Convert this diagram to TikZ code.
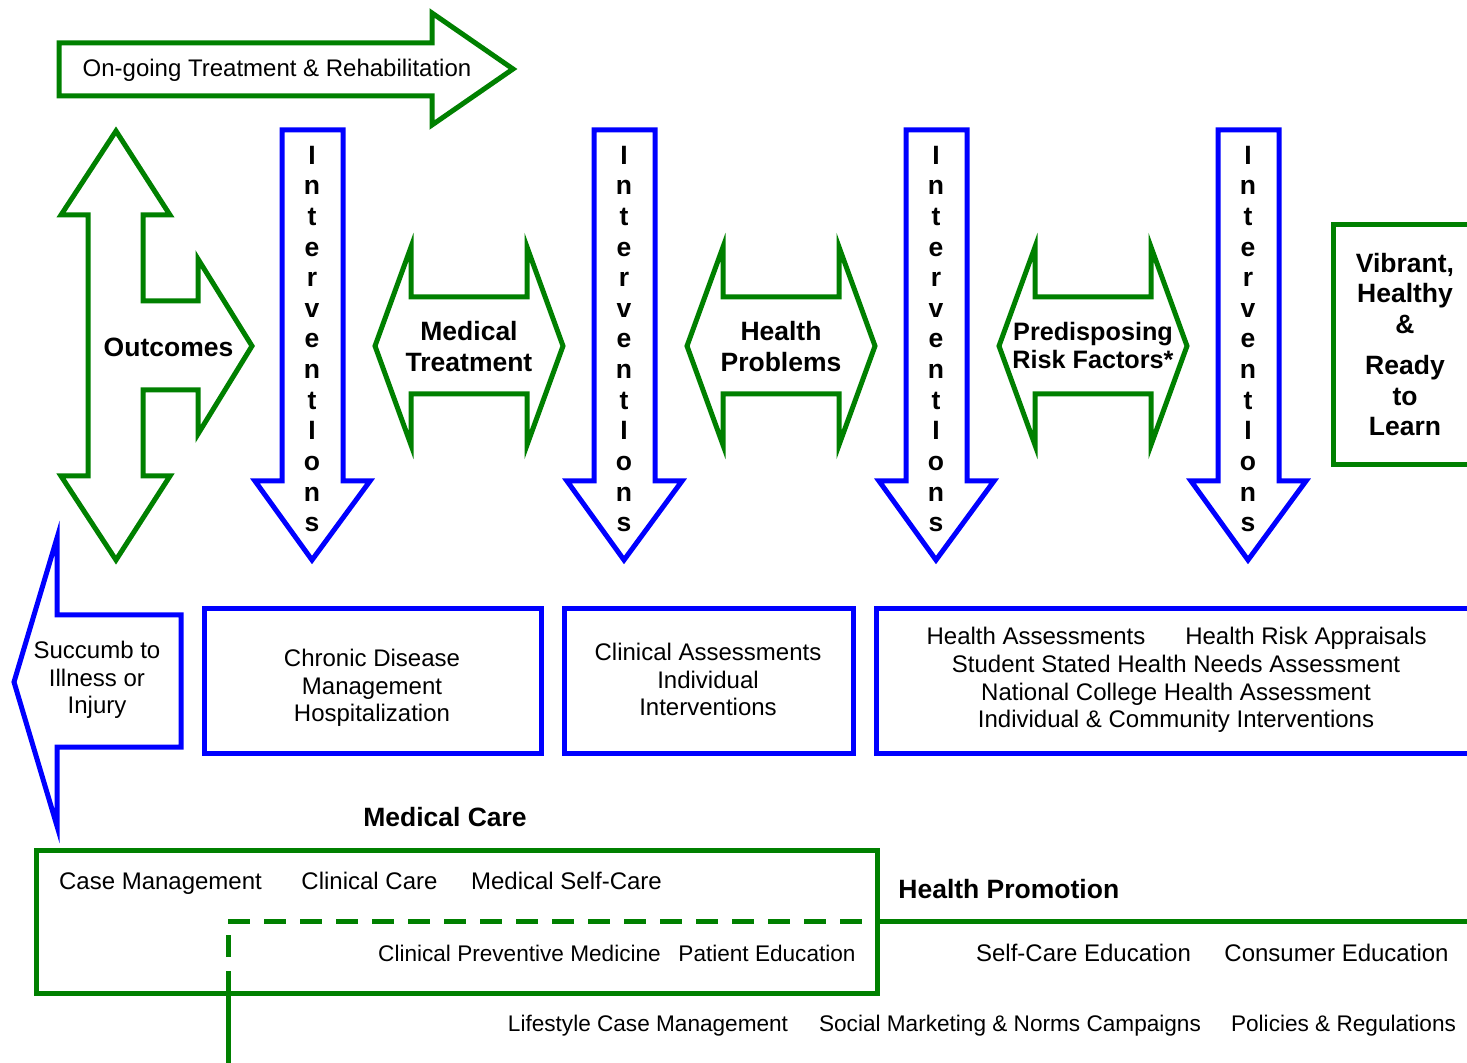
\documentclass[tikz,border=0pt]{standalone}
\usepackage{fontspec}
\setmainfont{Liberation Sans}
\definecolor{gr}{RGB}{0,128,0}
\definecolor{bl}{RGB}{0,0,255}
\tikzset{
 gline/.style={draw=gr, line width=2.5pt, line join=miter},
 bline/.style={draw=bl, line width=2.5pt, line join=miter},
 reg/.style={font=\fontsize{12}{13.75}\selectfont, align=center, inner sep=0pt},
 smalltxt/.style={font=\fontsize{11.3}{13}\selectfont, inner sep=0pt},
 bld/.style={font=\fontsize{13.25}{15.5}\selectfont\bfseries, align=center, inner sep=0pt},
 vert/.style={font=\fontsize{13.25}{15.33}\selectfont\bfseries, align=center, inner sep=0pt},
}
\begin{document}
\begin{tikzpicture}[x=0.5pt,y=-0.5pt]
\useasboundingbox (0,0) rectangle (1467,1063);
\clip (0,0) rectangle (1467,1063);

% On-going arrow
\draw[gline] (59,43) -- (432,43) -- (432,13) -- (513,69) -- (432,125) -- (432,96) -- (59,96) -- cycle;
\node[reg, anchor=base] (ongoing) at (277,76.5) {On-going Treatment \& Rehabilitation};

% Outcomes arrow
\draw[gline] (116,131) -- (170,215) -- (143,215) -- (143,301) -- (198,301) -- (198,259) -- (252,346)
  -- (198,434) -- (198,390) -- (143,390) -- (143,476) -- (170,476) -- (116,560) -- (61,476)
  -- (88,476) -- (88,215) -- (61,215) -- cycle;
\node[bld, anchor=base] (outcomes) at (168.5,356.5) {Outcomes};

% Interventions arrows
\foreach \cx/\nm in {312/ia,624/ib,936/ic,1248/id}{
  \draw[bline] (\cx-30,130) -- (\cx+31,130) -- (\cx+31,481) -- (\cx+58,481) -- (\cx,560)
    -- (\cx-57,481) -- (\cx-30,481) -- cycle;
  \node[vert] (\nm) at (\cx,339) {I\\n\\t\\e\\r\\v\\e\\n\\t\\I\\o\\n\\s};
}

% Double arrows
\foreach \lx in {372,684,996}{
  \draw[gline] (\lx+3,346) -- (\lx+39,247) -- (\lx+39,297) -- (\lx+155,297) -- (\lx+155,247)
    -- (\lx+191,346) -- (\lx+155,445) -- (\lx+155,394) -- (\lx+39,394) -- (\lx+39,445) -- cycle;
}
\node[bld, anchor=north] (medtreat) at (469,321) {Medical\\Treatment};
\node[bld, anchor=north] (healthprob) at (781,321) {Health\\Problems};
\node[bld, anchor=north, font=\fontsize{12.6}{14}\selectfont\bfseries] (predis) at (1093,321.5) {Predisposing\\Risk Factors*};

% Vibrant box
\draw[gline] (1333,225) rectangle (1490,465);
\node[bld, anchor=north, font=\fontsize{13.25}{15.2}\selectfont\bfseries] (vibrant) at (1405,253) {Vibrant,\\Healthy\\\&\\[5.5pt]Ready\\to\\Learn};

% Succumb arrow
\draw[bline] (14,682) -- (57,538) -- (57,615) -- (181,615) -- (181,747) -- (57,747) -- (57,826) -- cycle;
\node[reg, anchor=north] (succumb) at (97,641) {Succumb to\\Illness or\\Injury};

% Blue boxes
\draw[bline] (204,609) rectangle (541,753);
\node[reg, anchor=north] (chronic) at (372,649) {Chronic Disease\\Management\\Hospitalization};
\draw[bline] (564,609) rectangle (853,753);
\node[reg, anchor=north] (clinical) at (708,643) {Clinical Assessments\\Individual\\Interventions};
\draw[bline] (876,609) rectangle (1490,753);
\node[reg, anchor=base] (hassess) at (1036,644.5) {Health Assessments};
\node[reg, anchor=base] (hrisk) at (1306,644.5) {Health Risk Appraisals};
\node[reg, anchor=north] (hbox) at (1176,655) {Student Stated Health Needs Assessment\\National College Health Assessment\\Individual \& Community Interventions};

% Medical care
\node[bld, anchor=base] (medcare) at (445,826.5) {Medical Care};
\draw[gline] (36,850) rectangle (877,993);
\draw[gline, dashed, dash pattern=on 11pt off 7pt] (228,993) -- (228,921) -- (877,921);
\draw[gline] (877,921) -- (1490,921);
\draw[gline] (228,993) -- (228,1090);
\node[reg, anchor=base] (casemgmt) at (160.5,889.5) {Case Management};
\node[reg, anchor=base] (clincare) at (369.5,889.5) {Clinical Care};
\node[reg, anchor=base] (medself) at (566.5,889.5) {Medical Self-Care};
\node[smalltxt, anchor=base] (clinprev) at (519.5,961) {Clinical Preventive Medicine};
\node[smalltxt, anchor=base] (patedu) at (767,961) {Patient Education};

% Health promotion
\node[bld, anchor=base west] (healthpromo) at (898,898.5) {Health Promotion};
\node[reg, anchor=base] (selfcare) at (1083.5,961.5) {Self-Care Education};
\node[reg, anchor=base] (consumer) at (1336.5,961.5) {Consumer Education};
\node[smalltxt, anchor=base] (lifestyle) at (648,1031) {Lifestyle Case Management};
\node[smalltxt, anchor=base] (social) at (1010,1031) {Social Marketing \& Norms Campaigns};
\node[smalltxt, anchor=base] (policies) at (1343.5,1031) {Policies \& Regulations};
\end{tikzpicture}
\end{document}
